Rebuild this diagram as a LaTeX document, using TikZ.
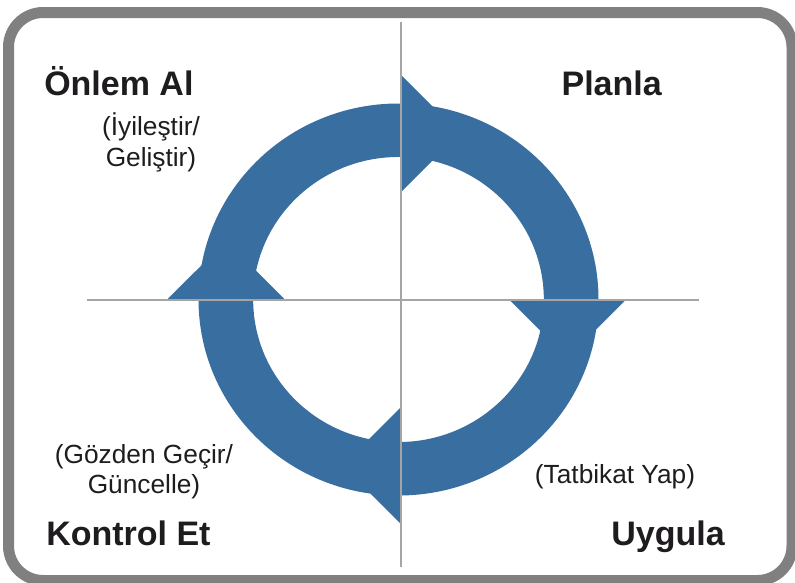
\documentclass[tikz,border=0pt]{standalone}
\usepackage{fontspec}
\setmainfont{Liberation Sans}
\definecolor{ringblue}{RGB}{57,110,160}
\definecolor{framegray}{RGB}{128,128,128}
\definecolor{axisgray}{RGB}{165,165,165}
\definecolor{inkblack}{RGB}{30,28,30}
\tikzset{
  phase/.style={inner sep=0pt, text=inkblack, font=\fontsize{25.5}{30}\selectfont\bfseries},
  note/.style={inner sep=0pt, text=inkblack, font=\fontsize{19.7}{23}\selectfont},
  axisline/.style={draw=axisgray, line width=1.5pt},
  arrowfill/.style={fill=ringblue}
}
\begin{document}
\begin{tikzpicture}[x=0.75pt,y=-0.75pt]
\useasboundingbox (0,0) rectangle (795,582);
% frame
\draw[framegray, line width=8.25pt, rounded corners=26pt] (8.5,12.5) rectangle (792,580.5);
% ring
\fill[ringblue, even odd rule]
  (398.5,299.5) ellipse [x radius=150pt, y radius=147pt]
  (398.5,299.5) ellipse [x radius=109pt, y radius=106.9pt];
% arrowheads
\fill[arrowfill] (401,75) -- (459.5,133.5) -- (401,192) -- cycle;
\fill[arrowfill] (509,299.5) -- (567.5,358) -- (626,299.5) -- cycle;
\fill[arrowfill] (401,407) -- (342.5,465.5) -- (401,524) -- cycle;
\fill[arrowfill] (167,299.5) -- (226,241) -- (285,299.5) -- cycle;
% axes
\coordinate (vtop) at (400.7,22);
\coordinate (vbot) at (400.7,567);
\coordinate (hleft) at (87,299.5);
\coordinate (hright) at (699,299.5);
\draw[axisline] (vtop) -- (vbot);
\draw[axisline] (hleft) -- (hright);
% labels
\node[phase, anchor=base west] (onlem) at (44,95) {Önlem Al};
\node[phase, anchor=base east] (planla) at (662,95) {Planla};
\node[phase, anchor=base west] (kontrol) at (46,545) {Kontrol Et};
\node[phase, anchor=base east] (uygula) at (725,545) {Uygula};
\node[note, anchor=base] (iyi) at (151,135) {(İyileştir/};
\node[note, anchor=base] (gel) at (151,166) {Geliştir)};
\node[note, anchor=base] (goz) at (144,463) {(Gözden Geçir/};
\node[note, anchor=base] (gun) at (144,493) {Güncelle)};
\node[note, anchor=base] (tat) at (615,483) {(Tatbikat Yap)};
\end{tikzpicture}
\end{document}
